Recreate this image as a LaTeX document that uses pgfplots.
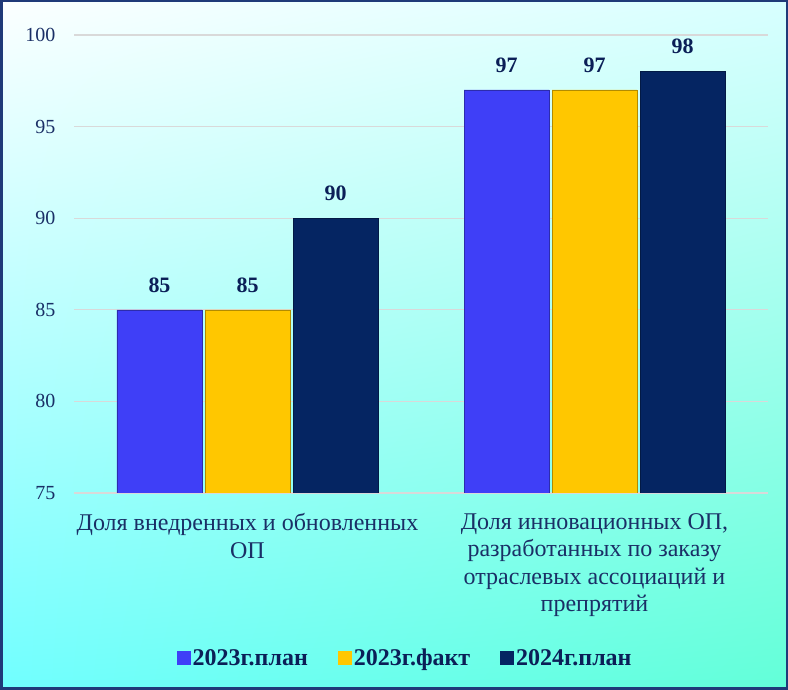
\documentclass[border=0pt]{standalone}
\usepackage{pgfplots}
\pgfplotsset{compat=1.18}
\usetikzlibrary{shadings}
\usepackage{fontspec}
\setmainfont{Liberation Serif}
\definecolor{cblue}{HTML}{3F3FF7}
\definecolor{cgold}{HTML}{FFC700}
\definecolor{cnavy}{HTML}{052562}
\definecolor{tnavy}{HTML}{1A2F66}
\definecolor{lnavy}{HTML}{0B1F57}
\definecolor{bord}{HTML}{1F3A78}
\definecolor{bgul}{HTML}{FCFFFF}
\definecolor{bgur}{HTML}{D8FFFF}
\definecolor{bgll}{HTML}{70FFFF}
\definecolor{bglr}{HTML}{62FFD8}
\begin{document}
\begin{tikzpicture}[x=1pt,y=1pt]
\useasboundingbox (0,0) rectangle (788,690);
\shade[upper left=bgul, upper right=bgur, lower left=bgll, lower right=bglr] (0,0) rectangle (788,690);
\draw[bord,line width=2.5pt] (1.25,1.25) rectangle (786.75,688.75);
\begin{axis}[
  at={(74pt,197pt)}, anchor=south west,
  scale only axis, width=694pt, height=458pt,
  xmin=-0.5, xmax=1.5, ymin=75, ymax=100,
  ytick={75,80,...,100},
  xtick={0,1},
  xticklabels={{Доля внедренных и обновленных\\ОП},{Доля инновационных ОП,\\разработанных по заказу\\отраслевых ассоциаций и\\препрятий}},
  xticklabel style={align=center, font=\fontsize{24}{27.3}\selectfont, text=tnavy, yshift=-17pt},
  yticklabel style={font=\fontsize{20}{24}\selectfont, text=tnavy, xshift=-15pt},
  major tick length=0pt,
  axis line style={draw=none},
  ymajorgrids, major grid style={color=black!15, line width=1.2pt},
  /pgf/number format/assume math mode=true,
  ybar, bar width=85pt,
  nodes near coords,
  every node near coord/.append style={font=\fontsize{22}{26}\selectfont\bfseries, text=lnavy, yshift=14pt},
  legend columns=3,
  legend style={at={(0.477,-0.36)}, anchor=center, draw=none, fill=none,
    font=\fontsize{24}{28}\selectfont\bfseries, text=lnavy,
    /tikz/every even column/.append style={column sep=28pt}},
  legend image code/.code={\fill[#1,draw=none] (0pt,-7pt) rectangle (14pt,7pt);},
]
\addplot[fill=cblue, draw=cblue!70!black, bar shift=-88pt] coordinates {(0,85) (1,97)};
\addplot[fill=cgold, draw=cgold!70!black, bar shift=0pt] coordinates {(0,85) (1,97)};
\addplot[fill=cnavy, draw=cnavy!70!black, bar shift=88pt] coordinates {(0,90) (1,98)};
\legend{2023г.план,2023г.факт,2024г.план}
\end{axis}
\end{tikzpicture}
\end{document}
